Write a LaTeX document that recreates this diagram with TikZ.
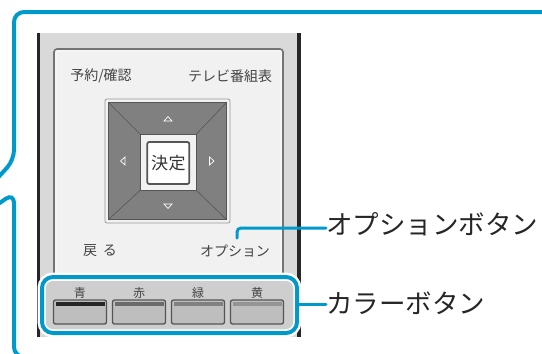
\documentclass[tikz,border=0pt]{standalone}
\usepackage{fontspec}
\newfontfamily\jp{Noto Sans CJK JP}
\definecolor{cblue}{RGB}{0,153,204}
\definecolor{bodygray}{RGB}{217,217,217}
\definecolor{panel}{RGB}{241,241,241}
\definecolor{dpad}{RGB}{128,128,128}
\definecolor{edge}{RGB}{85,85,85}
\definecolor{txt}{RGB}{68,68,68}
\definecolor{btn}{RGB}{190,190,190}
\tikzset{
  rlabel/.style={font=\jp\fontsize{14}{14}\selectfont, text=txt, inner sep=0pt},
  clabel/.style={font=\jp\fontsize{12}{12}\selectfont, text=txt, inner sep=0pt},
  callout/.style={font=\jp\fontsize{26.5}{26.5}\selectfont, text=black!85, inner sep=0pt, anchor=west},
  leader/.style={draw=cblue, line width=3pt, line cap=round},
  cbutton/.style={draw=edge, line width=1.3pt, fill=btn, rounded corners=2pt},
  tri/.style={draw=white, line width=0.7pt, fill=dpad}
}
\begin{document}
\begin{tikzpicture}[x=1pt,y=-1pt]
\useasboundingbox (0,0) rectangle (542,354);
\begin{scope}
\clip (0,0) rectangle (542,354);
% big blue callout outline
\draw[cblue, line width=4pt, rounded corners=10pt] (560,12) -- (14,12) -- (14,160) -- (-6,182);
\draw[cblue, line width=4pt, rounded corners=10pt] (-6,207) -- (14,193) -- (14,357) -- (60,357);
% remote body
\fill[bodygray] (40,33) rectangle (297,337);
\fill[black!85] (36.5,33) rectangle (40,337);
\fill[black!85] (297,33) rectangle (300.5,337);
% inner panel
\draw[draw=black!55, line width=1.6pt, fill=panel, rounded corners=3pt] (54,49) rectangle (283,300);
\draw[draw=white, line width=0.6pt, rounded corners=2pt] (56,51) rectangle (281,298);
% labels
\node[rlabel] (yoyaku) at (101,76) {予約/確認};
\node[rlabel] (tvbangumi) at (230,76) {テレビ番組表};
\node[rlabel] (modoru) at (100,251) {戻\kern6pt る};
\node[rlabel] (option) at (235,251) {オプション};
% d-pad
\draw[draw=black!40, line width=0.8pt, fill=panel, rounded corners=2pt] (105,99) rectangle (230,223);
\draw[draw=edge, line width=1.5pt, fill=dpad] (108.5,102.5) rectangle (226.5,219.5);
\fill[panel] (140.5,134.5) rectangle (196,190);
\draw[edge, line width=0.6pt] (108.5,102.5) -- (140.5,134.5)
  (226.5,102.5) -- (196,134.5)
  (108.5,219.5) -- (140.5,190)
  (226.5,219.5) -- (196,190);
\draw[edge, line width=0.6pt] (140.5,134.5) rectangle (196,190);
\node[draw=edge, line width=1.8pt, fill=white, rounded corners=2pt, minimum width=42pt, minimum height=42pt, inner sep=0pt, font=\jp\fontsize{17}{17}\selectfont, text=black!80] (kettei) at (168.3,163) {決\kern0.5pt 定};
\draw[tri] (164,121) -- (172,121) -- (168,116.5) -- cycle;
\draw[tri] (164,204) -- (172,204) -- (168,208.5) -- cycle;
\draw[tri] (125,157) -- (125,165) -- (120.5,161) -- cycle;
\draw[tri] (209.5,157) -- (209.5,165) -- (214,161) -- cycle;
% color button area
\draw[white, line width=9pt, rounded corners=11pt] (42,277) rectangle (297,333);
\draw[cblue, line width=4pt, fill=bodygray!95!black, rounded corners=11pt] (42,277) rectangle (297,333);
\draw[white, line width=1.5pt, rounded corners=8pt] (45,280) rectangle (294,330);
\node[rectangle, minimum width=255pt, minimum height=56pt, inner sep=0pt] (colorarea) at (169.5,305) {};
\foreach \x/\lab/\col [count=\i] in {80/青/black!85, 139/赤/black!58, 198/緑/black!50, 257/黄/black!42}{
  \node[clabel] (cl\i) at (\x,293) {\lab};
  \draw[cbutton] (\x-26.5,300) rectangle (\x+26.5,324);
  \fill[\col] (\x-24.5,302.3) rectangle (\x+24.5,306.3);
  \coordinate (cb\i) at (\x,312);
}
% leaders
\coordinate (optstub) at (237,238);
\node[callout] (optlbl) at (326,224) {オプションボタン};
\node[callout] (collbl) at (326,303) {カラーボタン};
\draw[leader, rounded corners=4pt] (optstub) -- (237,228) -- (optlbl.west |- 0,228);
\draw[leader] (colorarea.east |- 0,304.5) -- (collbl.west |- 0,304.5);
\end{scope}
\end{tikzpicture}
\end{document}
